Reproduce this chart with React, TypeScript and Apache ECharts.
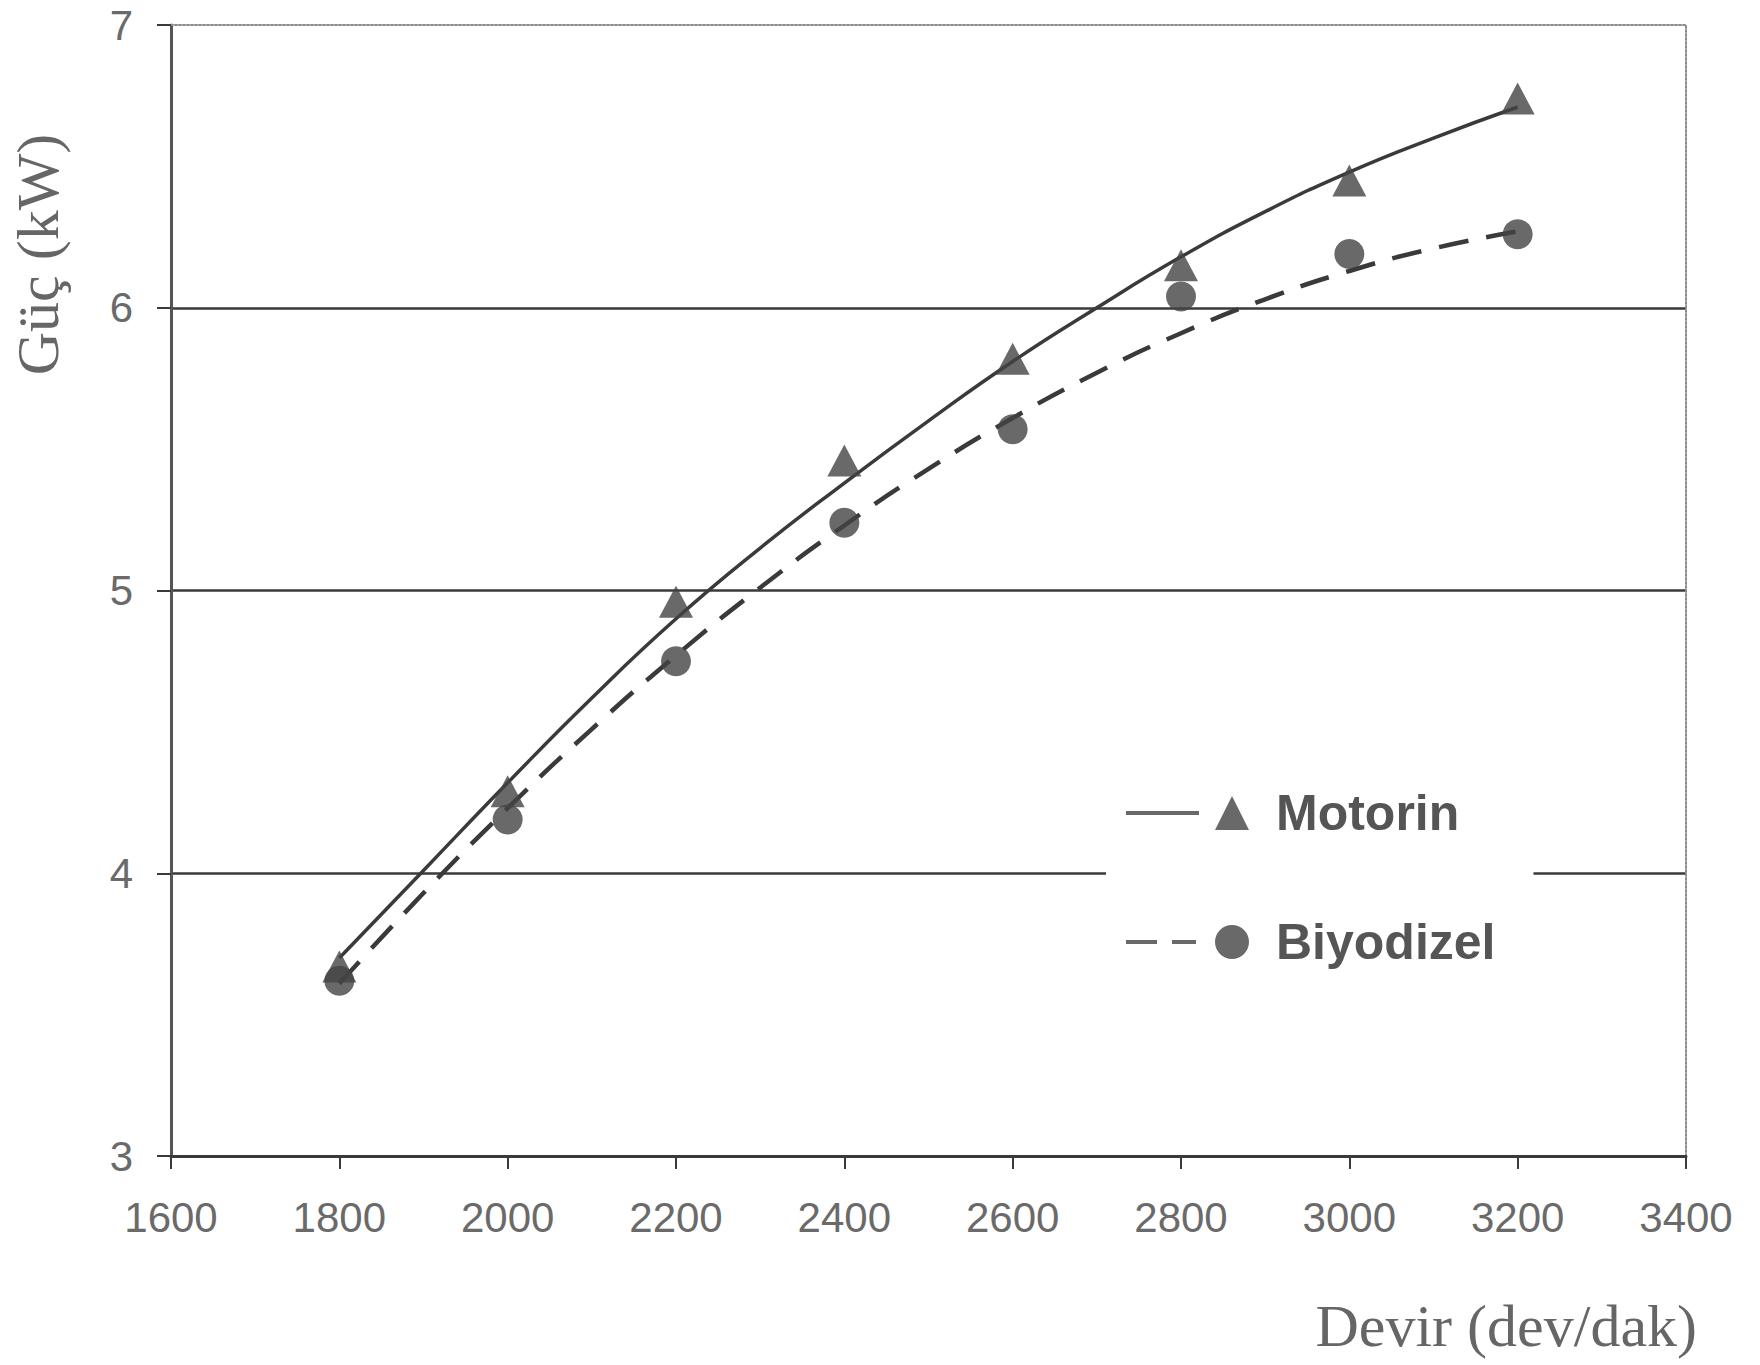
import React, { useEffect, useRef } from "react";
import * as echarts from "echarts";

// Tick values
const xTicks = [1600, 1800, 2000, 2200, 2400, 2600, 2800, 3000, 3200, 3400];
const yTicks = [3, 4, 5, 6, 7];

// Measured points (rpm)
const rpm = [1800, 2000, 2200, 2400, 2600, 2800, 3000, 3200];
const motorinPower = [3.67, 4.29, 4.96, 5.46, 5.82, 6.15, 6.45, 6.74];
const biyodizelPower = [3.62, 4.19, 4.75, 5.24, 5.57, 6.04, 6.19, 6.26];

// Trend curves
const trendRpm = [1800, 1900, 2000, 2100, 2200, 2300, 2400, 2500, 2600, 2700, 2800, 2900, 3000, 3100, 3200];
const motorinTrend = [3.70, 4.01, 4.32, 4.62, 4.90, 5.15, 5.38, 5.60, 5.81, 6.00, 6.18, 6.34, 6.48, 6.60, 6.71];
const biyodizelTrend = [3.61, 3.93, 4.23, 4.51, 4.77, 5.01, 5.23, 5.43, 5.61, 5.77, 5.91, 6.03, 6.13, 6.21, 6.27];

const seriesNames = ["Motorin", "Biyodizel"];
const xName = "Devir (dev/dak)";
const yName = "Güç (kW)";

const pair = (xs: number[], ys: number[]) => xs.map((x, i) => [x, ys[i]]);

const motorinIcon =
  "path://M0,15 L73,15 L73,19 L0,19 Z M106,0 L123,34 L89,34 Z";
const biyodizelIcon =
  "path://M0,15 L31,15 L31,19 L0,19 Z M46,15 L70,15 L70,19 L46,19 Z M89,17 A17,17 0 1 0 123,17 A17,17 0 1 0 89,17 Z";

export default function App() {
  const ref = useRef<HTMLDivElement>(null);
  useEffect(() => {
    if (!ref.current) return;
    const chart = echarts.init(ref.current, null, { renderer: "svg" });
    const dark = "#3a3a3a";
    const labelColor = "#6a6a6a";
    chart.setOption({
      animation: false,
      backgroundColor: "#ffffff",
      grid: { left: 157, right: 74, top: 25, bottom: 209, containLabel: false },
      legend: {
        orient: "vertical",
        left: 1106,
        top: 776,
        padding: [12, 38, 12, 20],
        backgroundColor: "#ffffff",
        itemWidth: 123,
        itemHeight: 34,
        itemGap: 79,
        data: [
          { name: seriesNames[0], icon: motorinIcon },
          { name: seriesNames[1], icon: biyodizelIcon },
        ],
        textStyle: {
          fontFamily: "Liberation Sans",
          fontSize: 50,
          lineHeight: 50,
          fontWeight: "bold",
          color: "#555555",
          padding: [0, 0, 0, 22],
        },
        selectedMode: false,
      },
      xAxis: [
        {
          type: "value",
          min: xTicks[0],
          max: xTicks[xTicks.length - 1],
          interval: 200,
          name: xName,
          nameLocation: "end",
          nameGap: 11,
          nameTextStyle: {
            fontFamily: "Liberation Serif",
            fontSize: 60,
            color: "#666666",
            align: "right",
            verticalAlign: "top",
            padding: [140, 0, 0, 0],
          },
          axisLine: { show: true, lineStyle: { color: dark, width: 3 } },
          axisTick: { show: true, inside: false, length: 13, lineStyle: { color: dark, width: 2 } },
          axisLabel: {
            margin: 40,
            fontFamily: "Liberation Sans",
            fontSize: 42,
            color: labelColor,
            formatter: (v: number) => String(v),
          },
          splitLine: { show: false },
        },
        {
          type: "value",
          position: "top",
          min: xTicks[0],
          max: xTicks[xTicks.length - 1],
          interval: 200,
          axisLine: { show: true, lineStyle: { color: "#8a8a8a", width: 2, type: "dotted" } },
          axisTick: { show: false },
          axisLabel: { show: false },
          splitLine: { show: false },
        },
      ],
      yAxis: [
        {
          type: "value",
          min: yTicks[0],
          max: yTicks[yTicks.length - 1],
          interval: 1,
          name: yName,
          nameLocation: "middle",
          nameGap: 103,
          nameRotate: 90,
          nameTextStyle: {
            fontFamily: "Liberation Serif",
            fontSize: 60,
            color: "#666666",
            padding: [0, 0, 0, 672],
          },
          axisLine: { show: true, lineStyle: { color: "#555555", width: 3 } },
          axisTick: { show: true, inside: false, length: 14, lineStyle: { color: dark, width: 2 } },
          axisLabel: {
            margin: 38,
            fontFamily: "Liberation Sans",
            fontSize: 42,
            color: labelColor,
            formatter: (v: number) => String(v),
          },
          splitLine: {
            show: true,
            showMinLine: false,
            showMaxLine: false,
            lineStyle: { color: dark, width: 2.5, type: "solid" },
          },
        },
        {
          type: "value",
          position: "right",
          min: yTicks[0],
          max: yTicks[yTicks.length - 1],
          interval: 1,
          axisLine: { show: true, lineStyle: { color: "#8a8a8a", width: 2, type: "dotted" } },
          axisTick: { show: false },
          axisLabel: { show: false },
          splitLine: { show: false },
        },
      ],
      series: [
        {
          name: "Motorin trend",
          type: "line",
          data: pair(trendRpm, motorinTrend),
          smooth: true,
          showSymbol: false,
          symbol: "none",
          lineStyle: { color: dark, width: 3.5, type: "solid" },
          z: 3,
        },
        {
          name: "Biyodizel trend",
          type: "line",
          data: pair(trendRpm, biyodizelTrend),
          smooth: true,
          showSymbol: false,
          symbol: "none",
          lineStyle: { color: dark, width: 4.5, type: [30, 18] },
          z: 3,
        },
        {
          name: seriesNames[0],
          type: "scatter",
          data: pair(rpm, motorinPower),
          symbol: "triangle",
          symbolSize: [34, 32],
          itemStyle: { color: "#444444" },
          z: 4,
        },
        {
          name: seriesNames[1],
          type: "scatter",
          data: pair(rpm, biyodizelPower),
          symbol: "circle",
          symbolSize: 30,
          itemStyle: { color: "#444444" },
          z: 4,
        },
      ],
    });
    return () => chart.dispose();
  }, []);
  return (
    <div
      ref={ref}
      style={{ position: "fixed", left: 0, top: 0, width: 1760, height: 1365, background: "#fff" }}
    />
  );
}
